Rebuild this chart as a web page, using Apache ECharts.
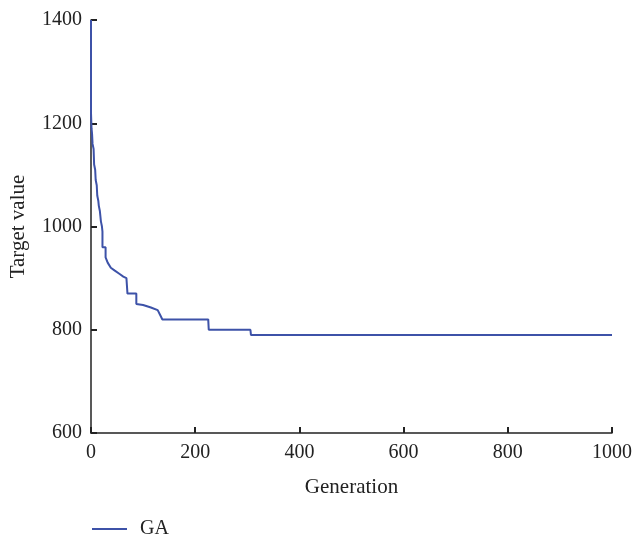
<!DOCTYPE html>
<html>
<head>
<meta charset="utf-8">
<script src="https://cdn.jsdelivr.net/npm/echarts@6/dist/echarts.min.js"></script>
<style>html,body{margin:0;padding:0;background:#fff}#c{width:637px;height:537px}</style>
</head>
<body>
<div id="c"></div>
<script>
const generations = [0, 0, 1, 2, 3, 5, 6, 8, 9, 11, 12, 14, 15, 17, 18, 19, 20, 21, 22, 22, 28, 28, 32, 38, 45, 55, 62, 68, 70, 70, 87, 87, 100, 115, 128, 133, 137, 225, 226, 306, 307, 1000];
const targetValues = [1400, 1220, 1190, 1180, 1160, 1150, 1120, 1110, 1090, 1080, 1060, 1050, 1040, 1030, 1020, 1010, 1005, 1000, 990, 960, 960, 940, 930, 920, 915, 908, 903, 900, 898, 870, 870, 850, 848, 843, 838, 828, 820, 820, 800, 800, 790, 790];
const seriesName = 'GA';
const xTicks = [0, 200, 400, 600, 800, 1000];
const yTicks = [600, 800, 1000, 1200, 1400];

const font = '"Liberation Serif", "DejaVu Serif", serif';
const chart = echarts.init(document.getElementById('c'), null, {renderer: 'canvas'});
chart.setOption({
  animation: false,
  backgroundColor: '#fff',
  grid: {left: 91, right: 25, top: 20, bottom: 104, containLabel: false},
  legend: {
    left: 92, bottom: -2, padding: 0,
    data: [{name: seriesName, icon: 'rect'}],
    itemWidth: 35, itemHeight: 2,
    textStyle: {fontFamily: font, fontSize: 20, color: '#222', padding: [0, 0, 0, 8]}
  },
  xAxis: {
    type: 'value', min: xTicks[0], max: xTicks[xTicks.length - 1], interval: 200,
    name: 'Generation', nameLocation: 'middle', nameGap: 44,
    nameTextStyle: {fontFamily: font, fontSize: 21, color: '#222'},
    axisLine: {lineStyle: {color: '#222', width: 1.5}},
    axisTick: {inside: true, length: 6, lineStyle: {color: '#222', width: 2}},
    axisLabel: {fontFamily: font, fontSize: 20, color: '#222', margin: 10, formatter: v => String(v)},
    splitLine: {show: false}
  },
  yAxis: {
    type: 'value', min: yTicks[0], max: yTicks[yTicks.length - 1], interval: 200,
    name: 'Target value', nameLocation: 'middle', nameGap: 62,
    nameTextStyle: {fontFamily: font, fontSize: 21, color: '#222'},
    axisLine: {show: true, lineStyle: {color: '#222', width: 1.5}},
    axisTick: {show: true, inside: true, length: 6, lineStyle: {color: '#222', width: 2}},
    axisLabel: {fontFamily: font, fontSize: 20, color: '#222', margin: 9, formatter: v => String(v)},
    splitLine: {show: false}
  },
  series: [{
    name: seriesName, type: 'line',
    data: generations.map((g, i) => [g, targetValues[i]]),
    showSymbol: false, symbol: 'none',
    lineStyle: {color: '#3d52a8', width: 2},
    itemStyle: {color: '#3d52a8'}
  }]
});
</script>
</body>
</html>
